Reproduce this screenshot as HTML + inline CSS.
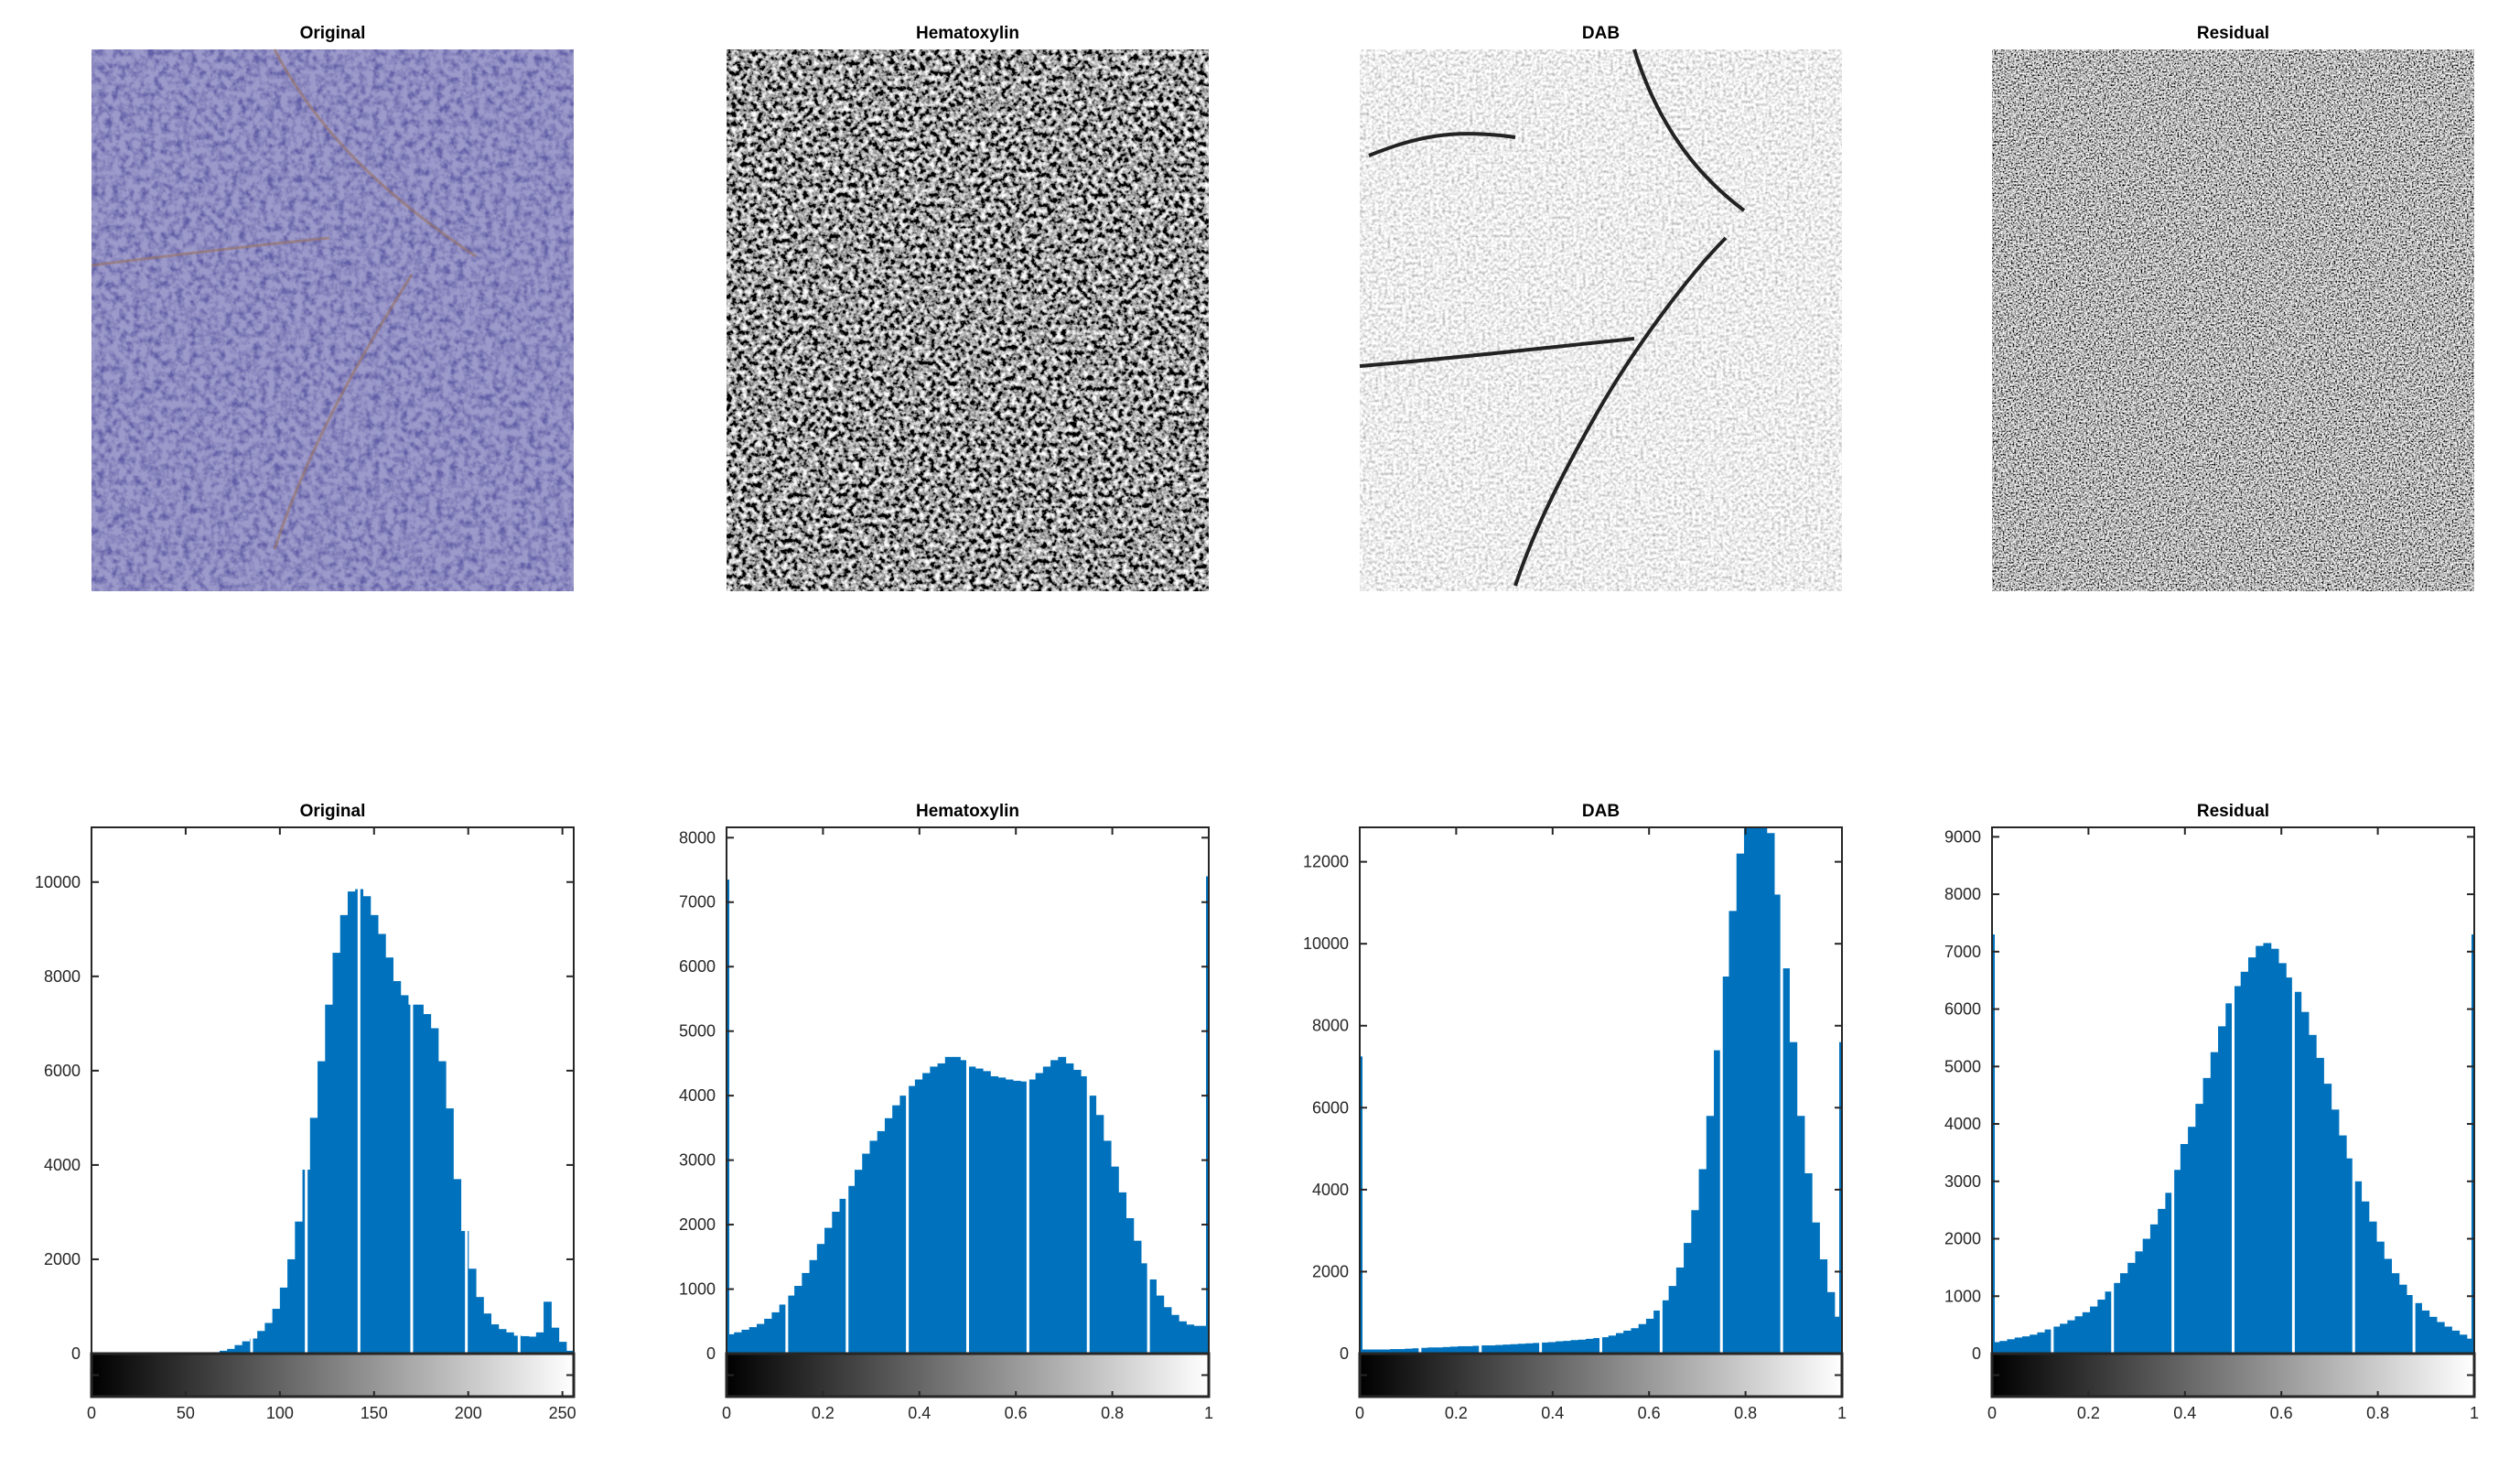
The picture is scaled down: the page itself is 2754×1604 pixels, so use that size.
<!DOCTYPE html>
<html><head><meta charset="utf-8">
<style>
html,body{margin:0;padding:0;background:#fff;}
svg{display:block;font-family:"Liberation Sans",Arial,sans-serif;}
.t{font-weight:bold;font-size:19px;fill:#000;text-anchor:middle;}
.tk{font-size:18px;fill:#262626;}
</style></head>
<body>
<svg id="fig" width="2754" height="1604" viewBox="0 0 2754 1604" xmlns="http://www.w3.org/2000/svg">
<defs>
  <filter id="fOrig" x="0" y="0" width="100%" height="100%">
    <feTurbulence type="fractalNoise" baseFrequency="0.13" numOctaves="3" seed="3" result="n"/>
    <feColorMatrix in="n" type="matrix" values="0 0 0 0 0  0 0 0 0 0  0 0 0 0 0  2.4 0 0 0 -0.9" result="a"/>
    <feFlood flood-color="#625fa8" result="c"/>
    <feComposite in="c" in2="a" operator="in" result="dark"/>
    <feFlood flood-color="#9c9acb" result="bg"/>
    <feMerge><feMergeNode in="bg"/><feMergeNode in="dark"/></feMerge>
  </filter>
  <filter id="fHema" x="0" y="0" width="100%" height="100%">
    <feTurbulence type="fractalNoise" baseFrequency="0.18" numOctaves="3" seed="7" result="n"/>
    <feColorMatrix in="n" type="matrix" values="2.6 0 0 0 -0.95  2.6 0 0 0 -0.95  2.6 0 0 0 -0.95  0 0 0 0 1"/>
  </filter>
  <filter id="fDab" x="0" y="0" width="100%" height="100%">
    <feTurbulence type="fractalNoise" baseFrequency="0.3" numOctaves="2" seed="11" result="n"/>
    <feColorMatrix in="n" type="matrix" values="1.2 0 0 0 0.25  1.2 0 0 0 0.25  1.2 0 0 0 0.25  0 0 0 0 1"/>
  </filter>
  <filter id="fRes" x="0" y="0" width="100%" height="100%">
    <feTurbulence type="fractalNoise" baseFrequency="0.55" numOctaves="2" seed="5" result="n"/>
    <feColorMatrix in="n" type="matrix" values="2.6 0 0 0 -0.8  2.6 0 0 0 -0.8  2.6 0 0 0 -0.8  0 0 0 0 1"/>
  </filter>
  <linearGradient id="gray" x1="0" y1="0" x2="1" y2="0">
    <stop offset="0" stop-color="#000"/><stop offset="1" stop-color="#fff"/>
  </linearGradient>
</defs>
<g id="images"></g>
<g id="hists"></g>
</svg>
<script>
const titles = ["Original","Hematoxylin","DAB","Residual"];
const origCounts = [0,0,0,0,0,0,0,0,0,0,0,0,0,0,0,10,30,60,100,180,260,320,480,650,950,1400,2000,2800,3900,5000,6200,7400,8500,9300,9800,9850,9700,9300,8900,8400,7900,7600,7400,7400,7200,6900,6200,5200,3700,2600,1800,1200,850,620,520,450,380,370,360,450,1100,550,250,60];
const hemaCounts = [300,330,370,410,460,540,640,760,900,1050,1250,1450,1700,1950,2200,2400,2600,2850,3100,3300,3450,3650,3850,4000,4150,4250,4350,4450,4500,4600,4600,4550,4450,4420,4380,4300,4280,4250,4230,4220,4250,4350,4450,4550,4600,4500,4400,4300,4000,3700,3300,2900,2500,2100,1750,1400,1150,900,720,600,500,450,430,430];
const dabCounts = [100,100,100,100,110,110,120,130,140,150,150,160,170,180,180,190,200,200,210,220,230,240,250,260,270,280,300,310,330,340,360,380,400,440,500,560,620,720,850,1050,1300,1650,2100,2700,3500,4500,5800,7400,9200,10800,12200,13200,13500,13400,12700,11200,9400,7600,5800,4400,3200,2300,1500,900];
const resCounts = [200,220,250,280,300,330,370,420,470,520,580,650,720,820,940,1080,1230,1400,1580,1780,2000,2250,2520,2800,3200,3650,3950,4350,4800,5250,5700,6100,6400,6650,6900,7100,7150,7050,6800,6550,6300,5950,5550,5150,4700,4250,3800,3400,3000,2650,2300,1950,1650,1400,1200,1020,880,750,640,550,470,400,330,260];
const origGaps = [85,114,142,170,199,227];
const unitGaps = [0.125,0.25,0.375,0.5,0.625,0.75,0.875];
const edgeSpikesHema = [7350,7400];
const edgeSpikesDab = [7250,7600];
const edgeSpikesRes = [7300,7300];
const xlims = [256,1,1,1];
const ylims = [11160,8160,12840,9165];
const yTicksOrig = [0,2000,4000,6000,8000,10000];
const yTicksHema = [0,1000,2000,3000,4000,5000,6000,7000,8000];
const yTicksDab = [0,2000,4000,6000,8000,10000,12000];
const yTicksRes = [0,1000,2000,3000,4000,5000,6000,7000,8000,9000];
const xTicksOrig = [0,50,100,150,200,250];
const xTicksUnit = [0,0.2,0.4,0.6,0.8,1];

const NS = "http://www.w3.org/2000/svg";
function mk(tag, attrs, parent){const e=document.createElementNS(NS,tag);for(const k in attrs)e.setAttribute(k,attrs[k]);parent.appendChild(e);return e;}

const lefts=[100,794,1486,2177], widths=[527,527,527,527];
const imgTop=54, imgBot=646, axTop=904, y0=1479, cbBot=1526;
const filters=["fOrig","fHema","fDab","fRes"];
const counts=[origCounts,hemaCounts,dabCounts,resCounts];
const gaps=[origGaps,unitGaps,unitGaps,unitGaps];
const spikes=[null,edgeSpikesHema,edgeSpikesDab,edgeSpikesRes];
const yTicks=[yTicksOrig,yTicksHema,yTicksDab,yTicksRes];
const xTicks=[xTicksOrig,xTicksUnit,xTicksUnit,xTicksUnit];

const gi=document.getElementById('images'), gh=document.getElementById('hists');
for(let p=0;p<4;p++){
  const L=lefts[p], W=widths[p];
  const t1=mk('text',{x:L+W/2,y:42,class:'t'},gi);
  t1.textContent=titles[p];
  
  
  const im=mk('rect',{x:L,y:imgTop,width:W,height:imgBot-imgTop,filter:'url(#'+filters[p]+')',fill:'#888'},gi);
  
  
  if(p===2){
    const st=mk('path',{d:`M${L+300} ${imgTop} C ${L+330} 150, ${L+380} 200, ${L+420} 230 M${L+400} 260 C ${L+360} 300, ${L+300} 380, ${L+260} 450 C ${L+220} 520, ${L+190} 580, ${L+170} 640 M${L} 400 C ${L+120} 390, ${L+200} 380, ${L+300} 370 M${L+10} 170 C ${L+60} 150, ${L+100} 140, ${L+170} 150`,stroke:'#222',fill:'none','stroke-width':4},gi);
    
    
  }
  if(p===0){
    const st=mk('path',{d:`M${L+200} ${imgTop} C ${L+250} 150, ${L+330} 220, ${L+420} 280 M${L+350} 300 C ${L+300} 380, ${L+240} 480, ${L+200} 600 M${L} 290 C ${L+80} 280, ${L+160} 270, ${L+260} 260`,stroke:'#9a7462',fill:'none','stroke-width':3,opacity:0.6},gi);
    
    
  }

  const g=mk('g',{},gh);
  
  
  const H=y0-axTop, xmax=xlims[p], ymax=ylims[p];
  const sx=v=>L+v/xmax*W, sy=v=>y0-Math.min(v,ymax)/ymax*H;
  const t2=mk('text',{x:L+W/2,y:892,class:'t'},g);
  t2.textContent=titles[p];
  
  
  const c=counts[p], n=c.length, bw=xmax/n;
  for(let k=0;k<n;k++){
    const x0=sx(k*bw), x1=sx((k+1)*bw);
    const b=mk('rect',{x:x0,y:sy(c[k]),width:x1-x0+0.6,height:y0-sy(c[k]),fill:'#0072bd'},g);
    
    
  }
  for(const gv of gaps[p]){
    const r=mk('rect',{x:sx(gv)-1.5,y:axTop,width:3,height:H,fill:'#fff'},g);
    
    
  }
  if(spikes[p]){
    const s0=mk('rect',{x:L,y:sy(spikes[p][0]),width:3,height:y0-sy(spikes[p][0]),fill:'#0072bd'},g);
    
    
    const s1=mk('rect',{x:L+W-3,y:sy(spikes[p][1]),width:3,height:y0-sy(spikes[p][1]),fill:'#0072bd'},g);
    
    
  }
  const box=mk('rect',{x:L,y:axTop,width:W,height:H,fill:'none',stroke:'#262626','stroke-width':2},g);
  
  
  for(const tv of yTicks[p]){
    const y=sy(tv);
    mk('line',{x1:L,x2:L+8,y1:y,y2:y,stroke:'#262626','stroke-width':2},g);
    mk('line',{x1:L+W-8,x2:L+W,y1:y,y2:y,stroke:'#262626','stroke-width':2},g);
    const lt=mk('text',{x:L-12,y:y+6,class:'tk','text-anchor':'end'},g);
    lt.textContent=tv;
    
    
  }
  const cb=mk('rect',{x:L,y:y0,width:W,height:cbBot-y0,fill:'url(#gray)',stroke:'#262626','stroke-width':3},g);
  
  
  mk('line',{x1:L,x2:L+8,y1:(y0+cbBot)/2,y2:(y0+cbBot)/2,stroke:'#262626','stroke-width':2},g);
  mk('line',{x1:L+W-8,x2:L+W,y1:(y0+cbBot)/2,y2:(y0+cbBot)/2,stroke:'#262626','stroke-width':2},g);
  for(const tv of xTicks[p]){
    const x=sx(tv);
    mk('line',{x1:x,x2:x,y1:axTop,y2:axTop+8,stroke:'#262626','stroke-width':2},g);
    mk('line',{x1:x,x2:x,y1:cbBot-6,y2:cbBot,stroke:'#262626','stroke-width':2},g);
    const lt=mk('text',{x:x,y:1550,class:'tk','text-anchor':'middle'},g);
    lt.textContent=tv;
    
    
  }
}
</script>
</body></html>
